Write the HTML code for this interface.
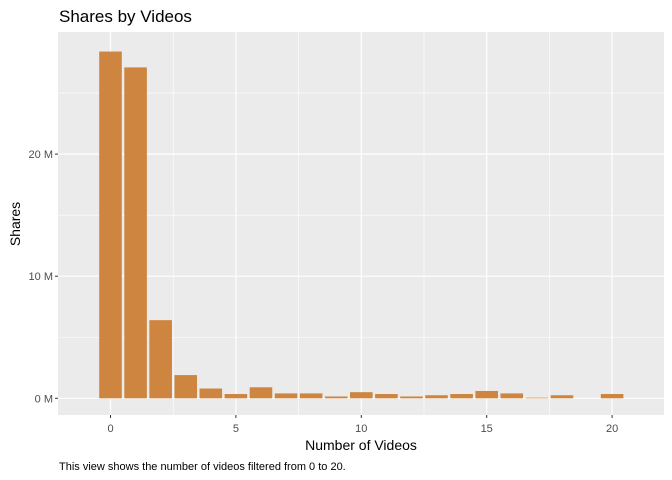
<!DOCTYPE html>
<html><head><meta charset="utf-8"><style>
body{margin:0;background:#fff;}
svg{display:block;font-family:"Liberation Sans",Arial,sans-serif;}
</style></head><body>
<svg id="chart" width="672" height="480">
<rect x="0" y="0" width="672" height="480" fill="#fff"/>
<text x="59" y="22" font-size="17" fill="#000">Shares by Videos</text>
<rect x="58" y="32" width="606" height="383" fill="#EBEBEB"/>
<g id="grid"></g>
<g id="bars"></g>
<g id="axes"></g>
<text x="361" y="450" font-size="14" text-anchor="middle" fill="#000">Number of Videos</text>
<text transform="translate(20,224) rotate(-90)" font-size="14" text-anchor="middle" fill="#000">Shares</text>
<text x="59" y="470" font-size="11" fill="#000">This view shows the number of videos filtered from 0 to 20.</text>
</svg>
<script>
const categories=[0,1,2,3,4,5,6,7,8,9,10,11,12,13,14,15,16,17,18,19,20];
const shares=[28.4,27.1,6.4,1.9,0.8,0.35,0.9,0.4,0.4,0.15,0.5,0.35,0.15,0.25,0.35,0.6,0.4,0.05,0.25,0,0.35];
const yTicks=[0,10,20];
const yTickLabels=["0 M","10 M","20 M"];
const yMinor=[5,15,25];
const xTicks=[0,5,10,15,20];
const xMinor=[2.5,7.5,12.5,17.5];
const NS="http://www.w3.org/2000/svg";
const px0=110.5,pxs=25.08,py0=398.3,pys=12.21;
function xs(v){return px0+v*pxs;}
function ys(v){return py0-v*pys;}
function mk(tag,attrs,parent){const e=document.createElementNS(NS,tag);for(const k in attrs)e.setAttribute(k,attrs[k]);document.getElementById(parent).appendChild(e);return e;}
yMinor.forEach(v=>{const l=mk('line',{x1:58,x2:664,y1:ys(v),y2:ys(v),stroke:'#fff','stroke-width':0.6},'grid');

});
xMinor.forEach(v=>{const l=mk('line',{x1:xs(v),x2:xs(v),y1:32,y2:415,stroke:'#fff','stroke-width':0.6},'grid');

});
yTicks.forEach((v,i)=>{const l=mk('line',{x1:58,x2:664,y1:ys(v),y2:ys(v),stroke:'#fff','stroke-width':1.2},'grid');


const t=mk('line',{x1:55,x2:58,y1:ys(v),y2:ys(v),stroke:'#333','stroke-width':1},'axes');


const tx=mk('text',{x:53,y:ys(v)+4,'font-size':11,'text-anchor':'end',fill:'#4D4D4D'},'axes');
tx.textContent=yTickLabels[i];

});
xTicks.forEach(v=>{const l=mk('line',{x1:xs(v),x2:xs(v),y1:32,y2:415,stroke:'#fff','stroke-width':1.2},'grid');


const t=mk('line',{x1:xs(v),x2:xs(v),y1:415,y2:418,stroke:'#333','stroke-width':1},'axes');


const tx=mk('text',{x:xs(v),y:432,'font-size':11,'text-anchor':'middle',fill:'#4D4D4D'},'axes');
tx.textContent=String(v);

});
categories.forEach((c,i)=>{const v=shares[i];if(v<=0)return;
const b=mk('rect',{x:xs(c-0.45),y:ys(v),width:0.9*pxs,height:ys(0)-ys(v),fill:'#CD853F'},'bars');

});
</script>
</body></html>
